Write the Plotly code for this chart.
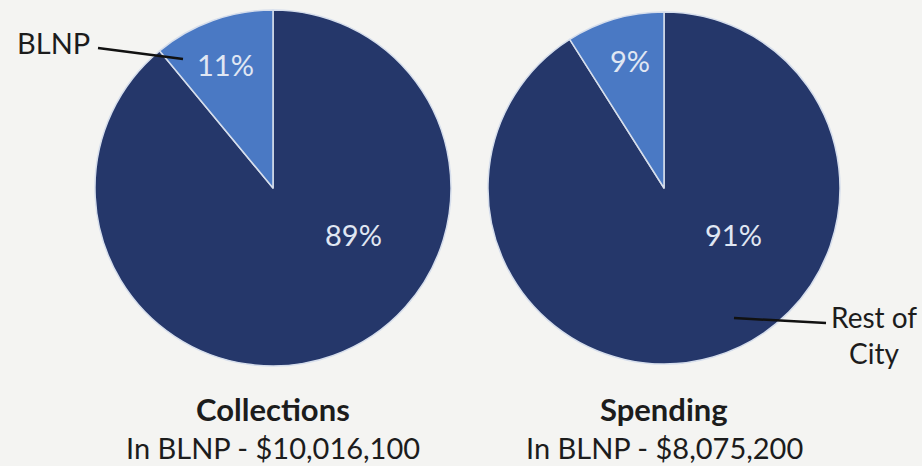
import plotly.graph_objects as go

# Share of each pie: the rest of the city vs. BLNP
slice_labels = ["Rest of City", "BLNP"]
collections_pct = [89, 11]
spending_pct = [91, 9]

chart_titles = ["Collections", "Spending"]
chart_subtitles = ["In BLNP - $10,016,100", "In BLNP - $8,075,200"]

slice_colors = ["#25376a", "#4a79c4"]
FONT = "Lato, 'Open Sans', sans-serif"
BG = "#f4f4f2"

W, H = 922, 466

# pie geometry in pixels: (center x, center y, radius)
pies = [(273, 188, 178), (664, 188, 176)]
# pixel positions of the percentage labels (rest, BLNP)
pct_pos = [[(353, 234), (225, 64)], [(733, 234), (630, 61)]]


def px(x):
    return x / W


def py(y):
    return 1 - y / H


def note(x, y, text, size, color="#1c1c1c", xanchor="center", **kw):
    return dict(
        x=px(x), y=py(y), xref="paper", yref="paper",
        xanchor=xanchor, yanchor="middle",
        text=text, showarrow=False,
        font=dict(family=FONT, size=size, color=color), **kw,
    )


fig = go.Figure()
for (cx, cy, r), vals in zip(pies, [collections_pct, spending_pct]):
    fig.add_trace(go.Pie(
        labels=slice_labels,
        values=vals,
        sort=False,
        direction="clockwise",
        rotation=0,
        marker=dict(colors=slice_colors, line=dict(color="#d6deec", width=1.5)),
        textinfo="none",
        hoverinfo="label+percent",
        showlegend=False,
        domain=dict(x=[px(cx - r), px(cx + r)], y=[py(cy + r), py(cy - r)]),
    ))

annotations = []
for vals, positions in zip([collections_pct, spending_pct], pct_pos):
    for v, (x, y) in zip(vals, positions):
        annotations.append(note(x, y, f"{v}%", 29, color="#e0e7f3"))

for (cx, cy, r), title, sub in zip(pies, chart_titles, chart_subtitles):
    annotations.append(note(cx, 409, f"<b>{title}</b>", 31))
    annotations.append(note(cx, 447, sub, 29))

# callout labels
annotations.append(note(15, 42, "BLNP", 29, xanchor="left"))
annotations.append(note(874, 335, "Rest of<br>City", 28, align="center"))

shapes = [
    dict(type="line", xref="paper", yref="paper",
         x0=px(98), y0=py(48), x1=px(183), y1=py(59),
         line=dict(color="#111111", width=2.5)),
    dict(type="line", xref="paper", yref="paper",
         x0=px(734), y0=py(318), x1=px(826), y1=py(323),
         line=dict(color="#111111", width=2.5)),
]

fig.update_layout(
    width=W, height=H,
    margin=dict(l=0, r=0, t=0, b=0),
    paper_bgcolor=BG, plot_bgcolor=BG,
    annotations=annotations,
    shapes=shapes,
)

fig.write_html("out.html")
